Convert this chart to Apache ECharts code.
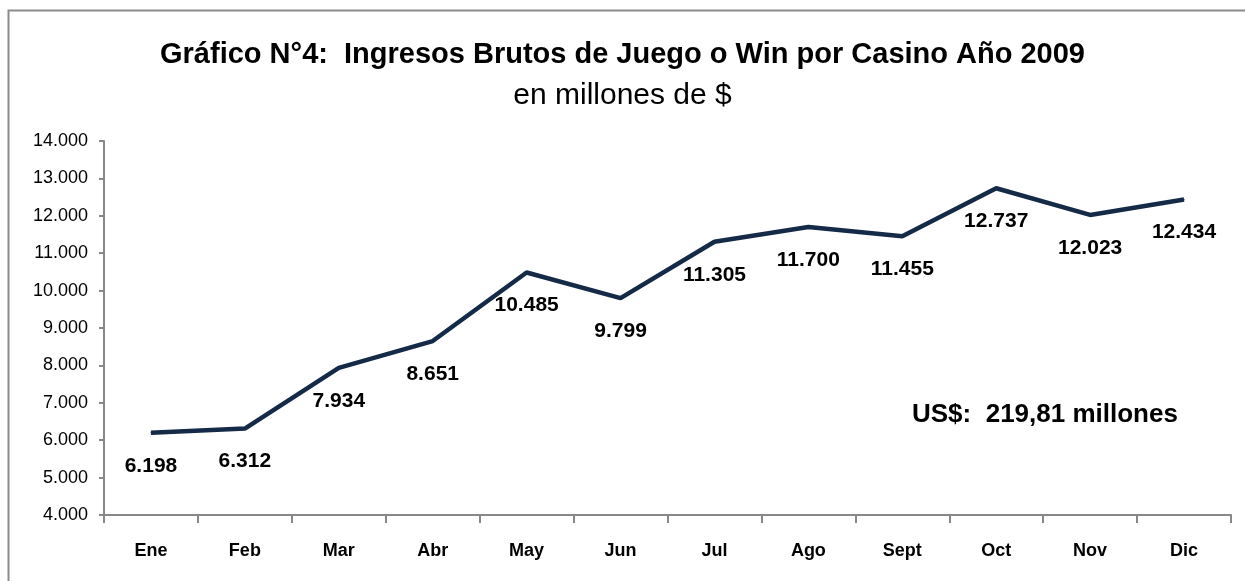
<!DOCTYPE html>
<html lang="es">
<head>
<meta charset="utf-8">
<title>Ingresos Brutos de Juego o Win por Casino 2009</title>
<script src="https://cdn.jsdelivr.net/npm/echarts@6/dist/echarts.min.js"></script>
<style>
  html, body { margin: 0; padding: 0; background: #fff; }
  #chart { width: 1245px; height: 581px; }
</style>
</head>
<body>
<div id="chart"></div>
<script>
var months = ['Ene', 'Feb', 'Mar', 'Abr', 'May', 'Jun', 'Jul', 'Ago', 'Sept', 'Oct', 'Nov', 'Dic'];
var win = [6198, 6312, 7934, 8651, 10485, 9799, 11305, 11700, 11455, 12737, 12023, 12434];
var yMin = 4000, yMax = 14000, yStep = 1000;
var totalNote = 'US$:  219,81 millones';

var font = '"Liberation Sans", Arial, sans-serif';

// 12737 -> "12.737"
function miles(v) {
  return String(v).replace(/\B(?=(\d{3})+(?!\d))/g, '.');
}

var chart = echarts.init(document.getElementById('chart'));
chart.setOption({
  animation: false,
  backgroundColor: '#fff',
  textStyle: { fontFamily: font },
  title: {
    text: 'Gráfico N°4:  Ingresos Brutos de Juego o Win por Casino Año 2009',
    subtext: 'en millones de $',
    left: 'center',
    top: 35,
    itemGap: 12,
    textStyle: { fontFamily: font, fontSize: 29, fontWeight: 'bold', color: '#000' },
    subtextStyle: { fontFamily: font, fontSize: 30, color: '#000' }
  },
  grid: { left: 104, right: 14, top: 141, bottom: 66 },
  graphic: [{
    type: 'rect',
    shape: { x: 8.5, y: 10.5, width: 1400, height: 800 },
    style: { fill: 'none', stroke: '#8c8c8c', lineWidth: 2 },
    silent: true
  }, {
    type: 'text',
    left: 912,
    top: 402,
    style: { text: totalNote, font: 'bold 26px ' + font, fill: '#000' }
  }],
  xAxis: {
    type: 'category',
    data: months,
    boundaryGap: true,
    axisLine: { lineStyle: { color: '#888', width: 2 } },
    axisTick: { show: true, length: 8, alignWithLabel: false, lineStyle: { color: '#888', width: 2 } },
    axisLabel: { margin: 27, fontSize: 18, fontWeight: 'bold', color: '#000', fontFamily: font }
  },
  yAxis: {
    type: 'value',
    min: yMin,
    max: yMax,
    interval: yStep,
    axisLine: { show: true, lineStyle: { color: '#888', width: 2 } },
    axisTick: { show: true, length: 5, lineStyle: { color: '#888', width: 2 } },
    splitLine: { show: false },
    axisLabel: { margin: 16, fontSize: 18, color: '#000', fontFamily: font, formatter: miles }
  },
  series: [{
    type: 'line',
    data: win,
    symbol: 'circle',
    symbolSize: 1,
    itemStyle: { color: '#152a47' },
    lineStyle: { color: '#152a47', width: 4.5 },
    label: {
      show: true,
      position: 'bottom',
      distance: 22,
      fontSize: 21,
      fontWeight: 'bold',
      color: '#000',
      fontFamily: font,
      formatter: function (p) { return miles(p.value); }
    }
  }]
});
</script>
</body>
</html>
